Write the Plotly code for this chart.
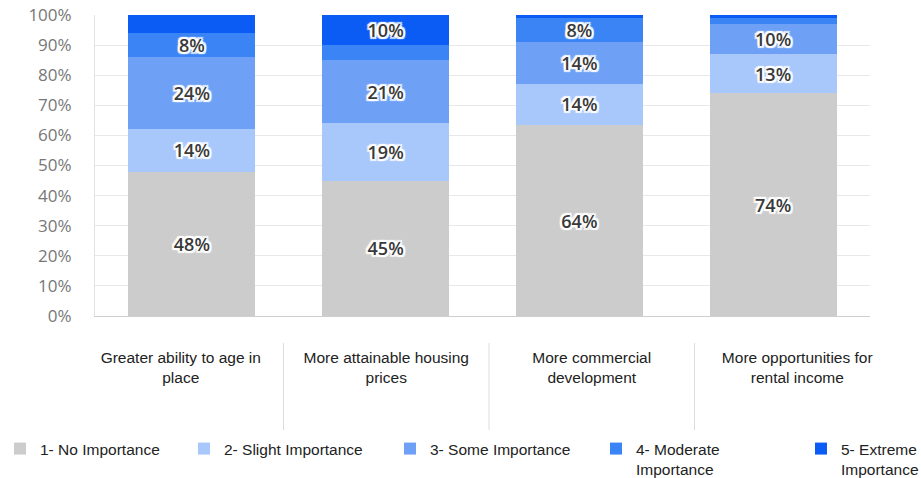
import plotly.graph_objects as go

# Survey: importance of each potential outcome (share of respondents)
categories = [
    "Greater ability to age in<br>place",
    "More attainable housing<br>prices",
    "More commercial<br>development",
    "More opportunities for<br>rental income",
]
levels = [
    "1- No Importance",
    "2- Slight Importance",
    "3- Some Importance",
    "4- Moderate<br>Importance",
    "5- Extreme<br>Importance",
]
no_importance = [48, 45, 64, 74]
slight_importance = [14, 19, 14, 13]
some_importance = [24, 21, 14, 10]
moderate_importance = [8, 5, 8, 2]
extreme_importance = [6, 10, 1, 1]

series = [no_importance, slight_importance, some_importance,
          moderate_importance, extreme_importance]
colors = ["#cccccc", "#a8c7fa", "#6ea1f5", "#3a84f5", "#0a5cf5"]

W, H = 921, 478
TOP = 15
PH = H - TOP  # paper height (no bottom margin)


def py(px):
    """pixel row -> paper fraction"""
    return (H - px) / PH


halo = ", ".join(f"{dx}px {dy}px 1px white" for dx, dy in
                 [(2, 0), (-2, 0), (0, 2), (0, -2), (2, 2), (-2, -2), (2, -2), (-2, 2)])

# one legend box per level, spread along the bottom edge
legend_ids = ["legend", "legend2", "legend3", "legend4", "legend5"]
legend_left_px = [0, 184, 390, 596, 801]

fig = go.Figure()
for name, vals, col, lg in zip(levels, series, colors, legend_ids):
    fig.add_trace(go.Bar(
        x=categories, y=vals, name=name, legend=lg,
        marker=dict(color=col, line=dict(width=0)),
        text=[f"{v}%" if v >= 8 else "" for v in vals],
        textposition="inside", insidetextanchor="middle",
        constraintext="none", textangle=0,
        textfont=dict(family="Open Sans", size=18, color="#3a3a3a",
                      weight=600, shadow=halo),
        hovertemplate="%{x}<br>" + name + ": %{text}<extra></extra>",
    ))

# category label axis (wider spacing, below the plot, with separators)
fig.add_trace(go.Scatter(
    x=categories, y=[None] * len(categories), xaxis="x2", yaxis="y2",
    mode="markers", showlegend=False, hoverinfo="skip",
))

for i in range(len(categories) - 1):
    fig.add_shape(type="line", xref="x2", yref="paper",
                  x0=i + 0.5, x1=i + 0.5, y0=py(430), y1=py(343),
                  line=dict(color="#dcdcdc", width=1))

label_font = dict(family="Liberation Sans", size=15.5, color="#222222")

legends = {}
for lg, left in zip(legend_ids, legend_left_px):
    legends[lg] = dict(orientation="h", x=left / W, xanchor="left",
                       y=py(432), yanchor="top", valign="top",
                       font=label_font, bgcolor="rgba(0,0,0,0)",
                       borderwidth=0)

fig.update_layout(
    width=W, height=H,
    margin=dict(l=0, r=0, t=TOP, b=0, autoexpand=False),
    paper_bgcolor="white", plot_bgcolor="white",
    barmode="stack", barnorm="percent", bargap=0.345,
    xaxis=dict(domain=[95 / W, 870 / W], type="category", range=[-0.5, 3.5],
               showticklabels=False, showgrid=False, showline=True,
               linecolor="#cfcfcf", linewidth=1, ticks="", fixedrange=True),
    yaxis=dict(domain=[py(316), 1], range=[0, 100], dtick=10, ticksuffix="%",
               showgrid=True, gridcolor="#e8e8e8", gridwidth=1,
               showline=True, linecolor="#e4e4e4", zeroline=False,
               ticks="outside", ticklen=19, tickcolor="rgba(0,0,0,0)",
               tickfont=dict(family="Open Sans", size=17, color="#777777"),
               fixedrange=True),
    xaxis2=dict(domain=[78 / W, 900 / W], type="category", range=[-0.5, 3.5],
                categoryorder="array", categoryarray=categories,
                anchor="free", position=py(342), showgrid=False, showline=False,
                zeroline=False, ticks="outside", ticklen=1,
                tickcolor="rgba(0,0,0,0)", tickfont=label_font,
                fixedrange=True),
    yaxis2=dict(domain=[py(430), py(342)], range=[0, 1], visible=False,
                fixedrange=True),
    showlegend=True,
    **legends,
)

fig.write_html("out.html")
